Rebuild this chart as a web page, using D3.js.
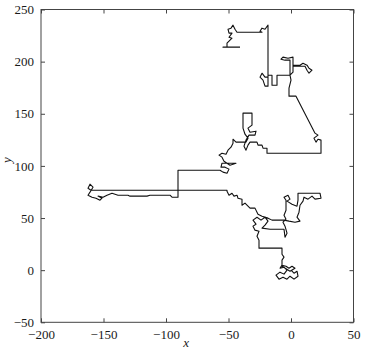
<!DOCTYPE html>
<html>
<head>
<meta charset="utf-8">
<script src="https://cdn.jsdelivr.net/npm/d3@7"></script>
<style>
  html, body { margin: 0; padding: 0; background: #fff; }
  svg { display: block; }
  .axis text { font-family: "Liberation Serif", "DejaVu Serif", serif; font-size: 13px; fill: #1a1a1a; }
  .axis path { display: none; }
  .axis line { stroke: #444; }
  .label { font-family: "Liberation Serif", serif; font-style: italic; font-size: 13px; fill: #1a1a1a; }
</style>
</head>
<body>
<svg id="chart" width="366" height="354"></svg>
<script>
// ---- Data (walk, in axis units) ----
const walkX = [
  0, 2.4, 4.8, 5.6, 2.4, -0.8, -3.2, -6.4, -9.6, -12, -8.8, -5.6, -3.2, -5.6, -8.8, -7.2, -4, -1.6, 0.8, 3.2,
  -0.8, -7.2, -7.2, -5.6, -7.2, -7.2, -16.8, -25.6, -25.6, -27.2, -25.6, -28.8, -30.4, -28, -30.4, -27.2, -24, -20.8, -18.4, -20.8,
  -23.2, -16.8, -5.6, -4.8, -3.2, -4.8, -6.4, -4, -5.6, -4, -4, -5.6, -2.4, -0.8, -3.2, 0.8, 4.8, 5.6, 5.6, 15.2,
  23.2, 24, 19.2, 16.8, 13.6, 10.4, 9.6, 7.2, 6.4, 4.8, 7.2, 3.2, -1.6, -5.6, -15.2, -18.4, -23.2, -26.4, -27.2, -28.8,
  -32.8, -34.4, -36.8, -39.2, -39.2, -42.4, -43.2, -45.6, -47.2, -49.6, -51.2, -51.2, -104.8, -160, -162.4, -160.8, -158.4, -160.8, -162.4, -159.2,
  -156, -152.8, -151.2, -154.4, -150.4, -147.2, -143.2, -140.8, -138.4, -130.4, -128.8, -115.2, -112.8, -104.8, -96.8, -95.2, -90.4, -90.4, -56.8, -54.4,
  -51.2, -49.6, -52.8, -56, -55.2, -50.4, -44, -48.8, -53.6, -55.2, -57.6, -55.2, -52, -50.4, -48, -46.4, -46.4, -44, -36, -34.4,
  -36.8, -38.4, -38.4, -31.2, -31.2, -34.4, -32.8, -28, -28.8, -33.6, -36, -37.6, -36, -34.4, -32.8, -27.2, -26.4, -23.2, -22.4, -19.2,
  -19.2, 24, 24, 21.6, 20, 18.4, 21.6, 19.2, 4, -1.6, -1.6, 0, -0.8, 1.6, 1.6, 7.2, 9.6, 12.8, 14.4, 16.8,
  14.4, 12.8, 11.2, 1.6, 1.6, -2.4, -6.4, -8, -4.8, -0.8, -0.8, -11.2, -11.2, -15.2, -15.2, -18.4, -18.4, -20.8, -22.4, -24.8,
  -23.2, -20.8, -18.4, -18.4, -20.8, -23.2, -24.8, -23.2, -43.2, -44.8, -46.4, -48, -50.4, -49.6, -47.2, -49.6, -47.2, -50.4, -51.2, -51.2,
  -54.4, -40.8
];
const walkY = [
  0, -2.9, -1.0, -5.8, -8.6, -5.8, -8.6, -6.7, -8.6, -4.8, -1.9, -3.8, 0, 2.9, 1.9, 4.8, 3.8, 1.9, 3.8, 1.9,
  -1.0, 3.8, 9.6, 12.5, 15.3, 21.1, 21.1, 21.1, 28.8, 32.6, 37.4, 38.4, 42.2, 44.1, 48.0, 50.8, 48.0, 50.8, 47.0, 43.2,
  40.3, 39.3, 39.3, 31.6, 35.5, 42.2, 46.0, 48.9, 52.7, 57.5, 67.1, 70.0, 71.9, 68.1, 66.2, 63.3, 61.4, 67.1, 73.8, 73.8,
  73.8, 69.0, 68.1, 71.0, 68.1, 70.0, 66.2, 62.3, 55.6, 50.8, 47.0, 46.0, 47.0, 48.0, 48.0, 49.9, 51.8, 53.7, 55.6, 59.5,
  59.5, 61.4, 64.3, 62.3, 68.1, 69.0, 71.9, 71.0, 73.8, 71.9, 75.8, 76.7, 76.7, 76.7, 78.6, 82.5, 79.6, 74.8, 71.9, 70.0,
  69.0, 67.1, 69.0, 71.0, 70.0, 71.9, 73.8, 72.9, 71.9, 71.9, 71.0, 71.0, 71.9, 71.9, 71.9, 70.0, 70.0, 95.9, 95.9, 94.0,
  93.0, 96.9, 98.8, 98.8, 102.6, 102.6, 102.6, 100.7, 104.5, 108.4, 110.3, 112.2, 111.2, 115.1, 118.0, 121.8, 125.6, 122.8, 122.8, 126.6,
  130.4, 136.2, 150.6, 150.6, 139.1, 136.2, 132.3, 133.3, 129.5, 129.5, 124.7, 118.9, 115.1, 119.9, 122.8, 122.8, 119.9, 119.9, 117.0, 117.0,
  112.2, 112.2, 124.7, 125.6, 122.8, 126.6, 129.5, 131.4, 166.9, 166.9, 174.5, 182.2, 187.0, 189.9, 196.6, 196.6, 198.5, 196.6, 193.7, 191.8,
  188.9, 191.8, 195.6, 195.6, 204.3, 203.3, 204.3, 202.3, 201.4, 201.4, 187.0, 187.0, 177.4, 177.4, 187.0, 187.0, 176.5, 176.5, 182.2, 185.1,
  188.9, 185.1, 185.1, 235.0, 231.1, 232.1, 229.2, 228.2, 228.2, 231.1, 235.0, 232.1, 231.1, 227.3, 227.3, 223.4, 222.5, 218.7, 217.7, 213.9,
  213.9, 213.9
];
const xTicks = [-200, -150, -100, -50, 0, 50];
const yTicks = [-50, 0, 50, 100, 150, 200, 250];
const xDomain = [-200, 50];
const yDomain = [-50, 250];

// ---- Layout ----
const plot = { left: 41, top: 9.5, right: 353.5, bottom: 322.3 };
const svg = d3.select("#chart");

const x = d3.scaleLinear().domain(xDomain).range([plot.left, plot.right]);
const y = d3.scaleLinear().domain(yDomain).range([plot.bottom, plot.top]);

// ticks point inward on all four sides
svg.append("g")
  .attr("class", "axis")
  .attr("transform", `translate(0,${plot.bottom})`)
  .call(d3.axisBottom(x).tickValues(xTicks).tickSizeInner(-4).tickSizeOuter(0).tickPadding(7));

svg.append("g")
  .attr("class", "axis")
  .attr("transform", `translate(0,${plot.top})`)
  .call(d3.axisTop(x).tickValues(xTicks).tickSizeInner(-4).tickSizeOuter(0).tickFormat(""));

svg.append("g")
  .attr("class", "axis")
  .attr("transform", `translate(${plot.left},0)`)
  .call(d3.axisLeft(y).tickValues(yTicks).tickSizeInner(-4).tickSizeOuter(0).tickPadding(7));

svg.append("g")
  .attr("class", "axis")
  .attr("transform", `translate(${plot.right},0)`)
  .call(d3.axisRight(y).tickValues(yTicks).tickSizeInner(-4).tickSizeOuter(0).tickFormat(""));

// frame
svg.append("rect")
  .attr("x", plot.left)
  .attr("y", plot.top)
  .attr("width", plot.right - plot.left)
  .attr("height", plot.bottom - plot.top)
  .attr("fill", "none")
  .attr("stroke", "#444")
  .attr("stroke-width", 1);

// walk
const pts = walkX.map((v, i) => [v, walkY[i]]);
const line = d3.line().x((d) => x(d[0])).y((d) => y(d[1]));

svg.append("path")
  .datum(pts)
  .attr("d", line)
  .attr("fill", "none")
  .attr("stroke", "#111")
  .attr("stroke-width", 1.1)
  .attr("stroke-linejoin", "round");

// axis labels
svg.append("text")
  .attr("class", "label")
  .attr("x", (plot.left + plot.right) / 2 - 11)
  .attr("y", 347)
  .attr("text-anchor", "middle")
  .text("x");

svg.append("text")
  .attr("class", "label")
  .attr("transform", "translate(11,160) rotate(-90)")
  .attr("text-anchor", "middle")
  .text("y");
</script>
</body>
</html>
